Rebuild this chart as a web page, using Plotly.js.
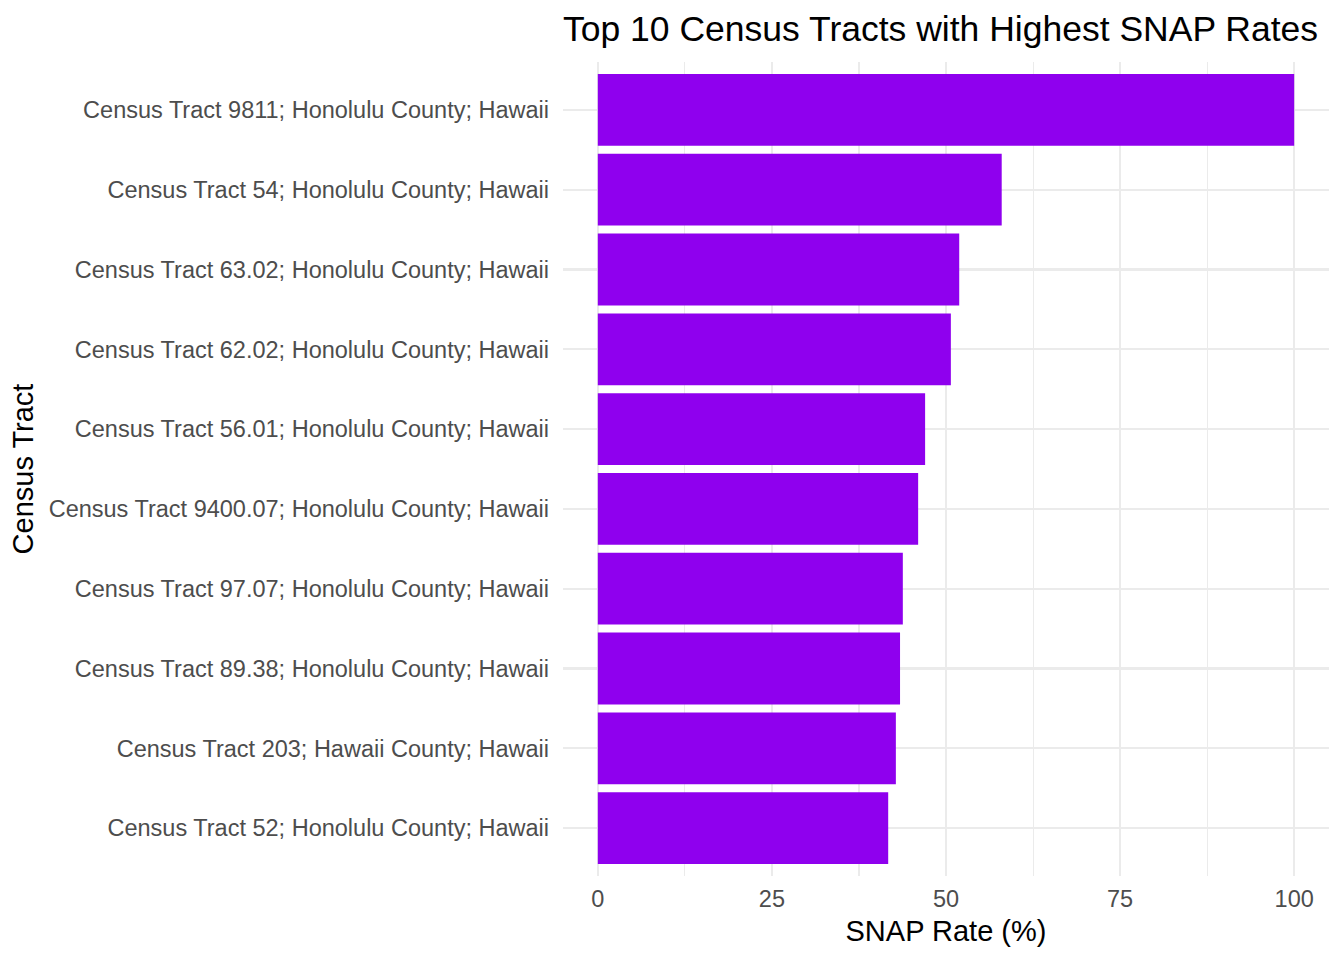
<!DOCTYPE html>
<html>
<head>
<meta charset="utf-8">
<script src="https://cdn.plot.ly/plotly-3.0.1.min.js"></script>
<style>html,body{margin:0;padding:0;background:#fff;}#chart{width:1344px;height:960px;}</style>
</head>
<body>
<div id="chart"></div>
<script>
const tracts = [
  "Census Tract 9811; Honolulu County; Hawaii",
  "Census Tract 54; Honolulu County; Hawaii",
  "Census Tract 63.02; Honolulu County; Hawaii",
  "Census Tract 62.02; Honolulu County; Hawaii",
  "Census Tract 56.01; Honolulu County; Hawaii",
  "Census Tract 9400.07; Honolulu County; Hawaii",
  "Census Tract 97.07; Honolulu County; Hawaii",
  "Census Tract 89.38; Honolulu County; Hawaii",
  "Census Tract 203; Hawaii County; Hawaii",
  "Census Tract 52; Honolulu County; Hawaii"
];
const snapRates = [100, 58.0, 51.9, 50.7, 47.0, 46.0, 43.8, 43.4, 42.8, 41.7];
const xTickVals = [0, 25, 50, 75, 100];
const xTickText = ["0", "25", "50", "75", "100"];

const font = "Liberation Sans, Arial, Helvetica, sans-serif";

Plotly.newPlot("chart", [{
  type: "bar",
  orientation: "h",
  x: snapRates,
  y: tracts,
  marker: {color: "#8F00EE"},
  hoverinfo: "x+y"
}], {
  width: 1344,
  height: 960,
  paper_bgcolor: "#fff",
  plot_bgcolor: "#fff",
  margin: {l: 563, r: 15, t: 62, b: 84},
  bargap: 0.1,
  showlegend: false,
  font: {family: font, color: "#000"},
  title: {
    text: "Top 10 Census Tracts with Highest SNAP Rates",
    font: {family: font, size: 35.5, color: "#000"},
    x: 0, xref: "paper", xanchor: "left",
    y: 1 - 29/960, yref: "container", yanchor: "middle"
  },
  xaxis: {
    range: [-5, 105],
    tickvals: xTickVals,
    ticktext: xTickText,
    ticks: "",
    showline: false,
    zeroline: false,
    showgrid: true,
    gridcolor: "#EBEBEB",
    gridwidth: 2.2,
    minor: {dtick: 12.5, tick0: 0, showgrid: true, gridcolor: "#EBEBEB", gridwidth: 1.1, ticks: ""},
    tickfont: {family: font, size: 23.5, color: "#4D4D4D"},
    ticklabelstandoff: 6,
    title: {text: "SNAP Rate (%)", font: {family: font, size: 29, color: "#000"}, standoff: 10},
    fixedrange: true
  },
  yaxis: {
    type: "category",
    categoryorder: "array",
    categoryarray: tracts,
    range: [9.6, -0.6],
    ticks: "",
    showline: false,
    zeroline: false,
    showgrid: true,
    gridcolor: "#EBEBEB",
    gridwidth: 2.2,
    tickfont: {family: font, size: 23.5, color: "#4D4D4D"},
    ticklabelstandoff: 13,
    title: {text: "Census Tract", font: {family: font, size: 29, color: "#000"}, standoff: 6},
    fixedrange: true
  }
}, {displayModeBar: false, staticPlot: true});
</script>
</body>
</html>
